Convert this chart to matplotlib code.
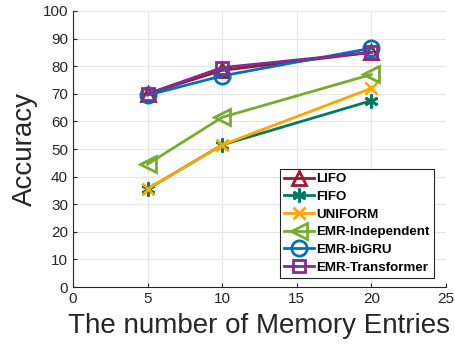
import matplotlib
matplotlib.use('Agg')
import numpy as np
import matplotlib.pyplot as plt

plt.rcParams['font.family'] = ['Liberation Sans', 'DejaVu Sans']

entries = [5, 10, 20]
lifo = [70, 78.5, 85]
fifo = [35.5, 51.5, 67.5]
uniform = [35.5, 51.5, 72]
emr_ind = [44.5, 61.5, 77]
emr_gru = [69.5, 76.5, 86.5]
emr_trans = [70, 79.5, 85]

fig = plt.figure(figsize=(4.56, 3.54), dpi=100)
ax = fig.add_axes([0.16, 0.189, 0.818, 0.78])

ax.plot(entries, lifo, color='#A2142F', marker='^', ms=10, mfc='none', mew=2, lw=2, label='LIFO')
ax.plot(entries, fifo, color='#007A63', marker=(6, 2, 0), ms=10, mew=2, lw=2, label='FIFO')
ax.plot(entries, uniform, color='#FFA500', marker='x', ms=9, mew=2, lw=2, label='UNIFORM')
ax.plot(entries, emr_ind, color='#77AC30', marker='<', ms=11, mfc='none', mew=2, lw=2, label='EMR-Independent')
ax.plot(entries, emr_gru, color='#0072BD', marker='o', ms=11, mfc='none', mew=2, lw=2, label='EMR-biGRU')
ax.plot(entries, emr_trans, color='#7E2F8E', marker='s', ms=9, mfc='none', mew=2, lw=2, label='EMR-Transformer')

ax.set_xlim(0, 25)
ax.set_ylim(0, 100)
ax.set_xticks([0, 5, 10, 15, 20, 25])
ax.set_yticks(np.arange(0, 101, 10))
ax.grid(True, color='#e6e6e6', lw=0.8)
ax.set_axisbelow(True)
for s in ['top', 'right']:
    ax.spines[s].set_visible(False)
for s in ['left', 'bottom']:
    ax.spines[s].set_color('#262626')
ax.tick_params(direction='in', length=3, labelsize=11, colors='#262626')

ax.set_xlabel('The number of Memory Entries', fontsize=20, color='#262626', labelpad=5)
ax.set_ylabel('Accuracy', fontsize=20, color='#262626', labelpad=3)

leg = ax.legend(loc='lower right', bbox_to_anchor=(0.985, 0.01), prop={'weight': 'bold', 'size': 9.6},
                handlelength=2.2, handletextpad=0.2, labelspacing=0.4, borderpad=0.3,
                fancybox=False, framealpha=1, edgecolor='#262626')
leg.get_frame().set_linewidth(0.8)

fig.savefig('out.png', dpi=100)
